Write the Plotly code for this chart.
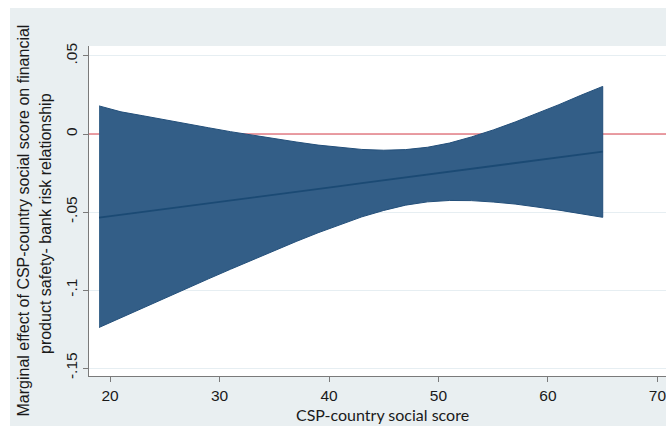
import plotly.graph_objects as go

# Marginal effect of CSP-country social score, with 95% confidence band
csp_score = [19, 21, 23, 25, 27, 29, 31, 33, 35, 37, 39, 41,
             43, 45, 47, 49, 51, 53, 55, 57, 59, 61, 63, 65]
effect = [-0.0536, -0.0518, -0.0499, -0.0481, -0.0462, -0.0444, -0.0426, -0.0407,
          -0.0389, -0.0370, -0.0352, -0.0334, -0.0315, -0.0297, -0.0278, -0.0260,
          -0.0242, -0.0223, -0.0205, -0.0186, -0.0168, -0.0150, -0.0131, -0.0113]
ci_upper = [0.0180, 0.0142, 0.0117, 0.0090, 0.0066, 0.0040, 0.0015, -0.0008,
            -0.0031, -0.0051, -0.0071, -0.0087, -0.0099, -0.0104, -0.0100, -0.0085,
            -0.0058, -0.0019, 0.0026, 0.0077, 0.0132, 0.0188, 0.0248, 0.0305]
ci_lower = [-0.1240, -0.1178, -0.1115, -0.1052, -0.0990, -0.0928, -0.0867, -0.0806,
            -0.0747, -0.0689, -0.0633, -0.0581, -0.0531, -0.0490, -0.0456, -0.0435,
            -0.0426, -0.0427, -0.0436, -0.0449, -0.0468, -0.0488, -0.0510, -0.0534]

x_ticks = [20, 30, 40, 50, 60, 70]
y_ticks = [0.05, 0.0, -0.05, -0.10, -0.15]
y_tick_text = [".05", "0", "-.05", "-.1", "-.15"]
x_range = [18.08, 70.78]
y_range = [-0.1551, 0.0564]

W, H = 666, 431
ML, MR, MT, MB = 89, 0, 46, 55
PW, PH = W - ML - MR, H - MT - MB


def px(xp):
    return (xp - ML) / PW


def py(yp):
    return (H - MB - yp) / PH


band_color = "#335e87"
line_color = "#1b4a74"
bg_color = "#e9eff1"
text_color = "#1a1a1a"

fig = go.Figure()

# reference line at zero, drawn first so the band covers it
fig.add_trace(go.Scatter(
    x=x_range, y=[0, 0], mode="lines",
    line=dict(color="#e47c85", width=1.4), hoverinfo="skip", showlegend=False,
))
fig.add_trace(go.Scatter(
    x=csp_score + csp_score[::-1],
    y=ci_upper + ci_lower[::-1],
    fill="toself", fillcolor=band_color,
    line=dict(color="#234f7a", width=1),
    mode="lines", hoverinfo="skip", showlegend=False,
))
fig.add_trace(go.Scatter(
    x=csp_score, y=effect, mode="lines",
    line=dict(color=line_color, width=1.8), showlegend=False,
))

shapes = [
    # white borders around the graph region
    dict(type="rect", xref="paper", yref="paper", x0=px(0), x1=px(W), y0=py(8), y1=py(-5),
         fillcolor="white", line=dict(width=0), layer="below"),
    dict(type="rect", xref="paper", yref="paper", x0=px(-5), x1=px(10), y0=py(H + 5), y1=py(-5),
         fillcolor="white", line=dict(width=0), layer="below"),
    dict(type="rect", xref="paper", yref="paper", x0=px(0), x1=px(W), y0=py(H + 5), y1=py(426),
         fillcolor="white", line=dict(width=0), layer="below"),
]

annotations = [
    dict(text="Marginal effect of CSP-country social score on financial",
         xref="paper", yref="paper", x=px(23), y=py(220.5), textangle=-90,
         showarrow=False, xanchor="center", yanchor="middle",
         font=dict(family="Liberation Sans, Arial", size=16, color=text_color)),
    dict(text="product safety- bank risk relationship",
         xref="paper", yref="paper", x=px(46), y=py(224), textangle=-90,
         showarrow=False, xanchor="center", yanchor="middle",
         font=dict(family="Liberation Sans, Arial", size=16, color=text_color)),
    dict(text="CSP-country social score",
         xref="paper", yref="paper", x=px(382), y=py(414),
         showarrow=False, xanchor="center", yanchor="middle",
         font=dict(family="Lato", size=16, color=text_color)),
]

fig.update_layout(
    width=W, height=H,
    margin=dict(l=ML, r=MR, t=MT, b=MB, pad=0),
    paper_bgcolor=bg_color, plot_bgcolor="white",
    shapes=shapes, annotations=annotations,
    showlegend=False,
    font=dict(family="Liberation Sans, Arial", size=15, color=text_color),
)

fig.update_xaxes(
    range=x_range, tickvals=x_ticks, ticktext=[str(v) for v in x_ticks],
    ticklabeloverflow="allow",
    showgrid=False, zeroline=False,
    showline=True, linecolor="#7a7a7a", linewidth=1.3,
    ticks="outside", ticklen=5, tickcolor="#7a7a7a", tickwidth=1.2,
    tickfont=dict(size=15.5, color=text_color),
)
fig.update_yaxes(
    range=y_range, tickvals=y_ticks, ticktext=y_tick_text,
    tickangle=-90,
    showgrid=True, gridcolor="#e6eef2", gridwidth=1, zeroline=False,
    showline=True, linecolor="#7a7a7a", linewidth=1.3,
    ticks="outside", ticklen=5, tickcolor="#7a7a7a", tickwidth=1.2,
    tickfont=dict(size=15.5, color=text_color),
)

fig.write_html("out.html")
